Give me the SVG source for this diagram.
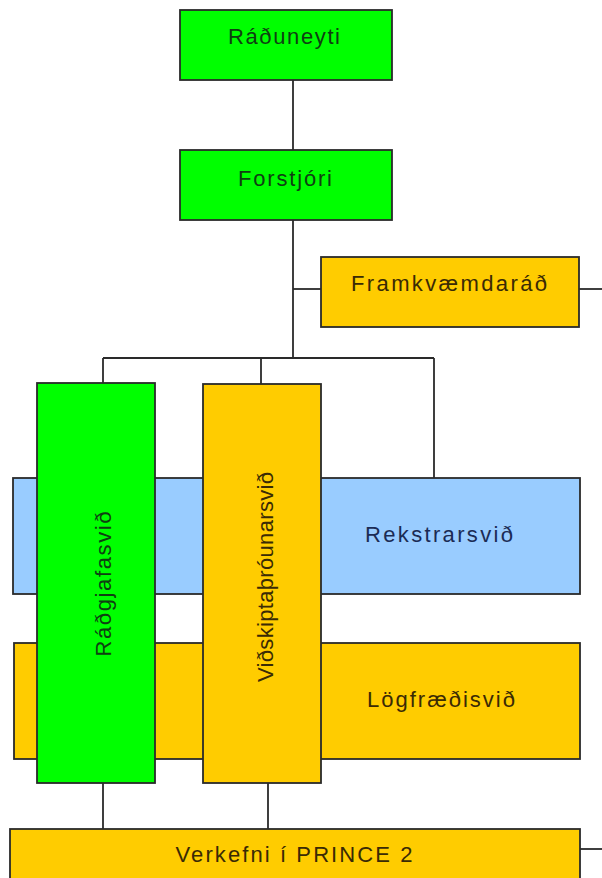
<svg xmlns="http://www.w3.org/2000/svg" width="602" height="878" viewBox="0 0 602 878">
<style>
.box{stroke:#2a2a2a;stroke-width:1.8}
.g{fill:#00ff00}
.y{fill:#ffcc00}
.b{fill:#99ccff}
.t{font-family:"Liberation Sans",Arial,sans-serif;font-size:22px;text-anchor:middle}
.tg{fill:#0f3f12}
.ty{fill:#3a2a05}
.tb{fill:#1b2b55}
.c{stroke:#2a2a2a;stroke-width:1.8;fill:none}
</style>
<rect width="602" height="878" fill="#ffffff"/>
<g id="connectors">
<line class="c" x1="293" y1="80" x2="293" y2="150"/>
<line class="c" x1="293" y1="220" x2="293" y2="358"/>
<line class="c" x1="293" y1="289" x2="321" y2="289"/>
<line class="c" x1="579" y1="289" x2="602" y2="289"/>
<line class="c" x1="103" y1="358" x2="434" y2="358"/>
<line class="c" x1="103" y1="358" x2="103" y2="383"/>
<line class="c" x1="261" y1="358" x2="261" y2="384"/>
<line class="c" x1="434" y1="358" x2="434" y2="478"/>
<line class="c" x1="103" y1="783" x2="103" y2="829"/>
<line class="c" x1="268" y1="783" x2="268" y2="829"/>
<line class="c" x1="580" y1="849" x2="602" y2="849"/>
</g>
<g id="raduneyti">
<rect class="box g" x="180" y="10" width="212" height="70"/>
<text class="t tg" x="284" y="44" textLength="112" lengthAdjust="spacing">Ráðuneyti</text>
</g>
<g id="forstjori">
<rect class="box g" x="180" y="150" width="212" height="70"/>
<text class="t tg" x="285" y="186" textLength="94" lengthAdjust="spacing">Forstjóri</text>
</g>
<g id="framkvaemdarad">
<rect class="box y" x="321" y="257" width="258" height="70"/>
<text class="t ty" x="449" y="291" textLength="196" lengthAdjust="spacing">Framkvæmdaráð</text>
</g>
<g id="rekstrarsvid">
<rect class="box b" x="13" y="478" width="567" height="116"/>
<text class="t tb" x="439" y="542" textLength="148" lengthAdjust="spacing">Rekstrarsvið</text>
</g>
<g id="logfraedisvid">
<rect class="box y" x="14" y="643" width="566" height="116"/>
<text class="t ty" x="441" y="707" textLength="148" lengthAdjust="spacing">Lögfræðisvið</text>
</g>
<g id="radgjafasvid">
<rect class="box g" x="37" y="383" width="118" height="400"/>
<text class="t tg" transform="translate(111,584) rotate(-90)" x="0" y="0" textLength="145" lengthAdjust="spacing">Ráðgjafasvið</text>
</g>
<g id="vidskiptathrounarsvid">
<rect class="box y" x="203" y="384" width="118" height="399"/>
<text class="t ty" transform="translate(273,577) rotate(-90)" x="0" y="0" textLength="210" lengthAdjust="spacing">Viðskiptaþróunarsvið</text>
</g>
<g id="verkefni">
<rect class="box y" x="10" y="829" width="570" height="70"/>
<text class="t ty" x="294" y="862" textLength="237" lengthAdjust="spacing">Verkefni í PRINCE 2</text>
</g>
</svg>
